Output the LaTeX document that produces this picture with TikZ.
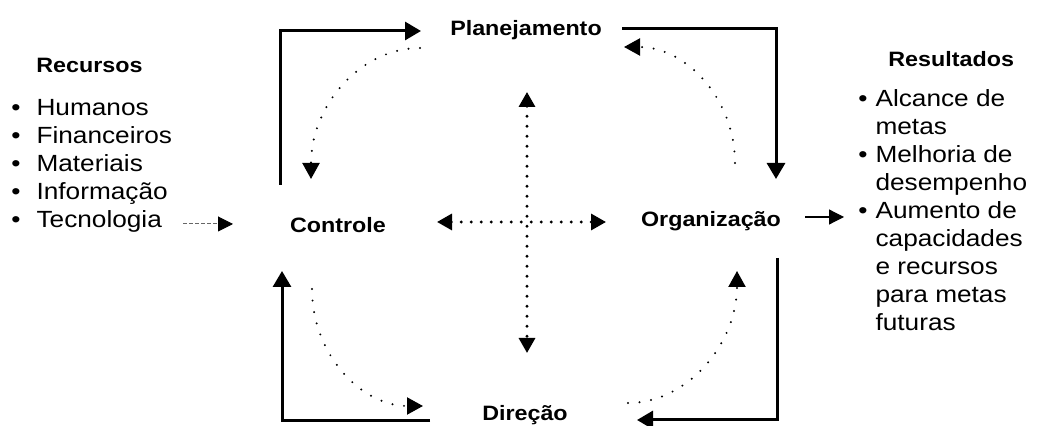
\documentclass[tikz,border=0pt]{standalone}
\usepackage{fontspec}
\setmainfont{Liberation Sans}[FakeStretch=1.12]
\usepackage{tikz}
\usetikzlibrary{arrows.meta,positioning}

\begin{document}
\begin{tikzpicture}[x=0.5pt,y=-0.5pt,
    flow/.style={line width=1.5pt,-{Triangle[length=8pt,width=9pt]}},
    cycle/.style={line width=1.1pt,line cap=round,dash pattern=on 0pt off 5.8pt,-{Triangle[length=8pt,width=8.5pt]}},
    cross/.style={line width=1.6pt,line cap=round,dash pattern=on 0pt off 5pt,{Triangle[length=7.5pt,width=8pt]}-{Triangle[length=7.5pt,width=8pt]}},
    phase/.style={font=\fontsize{10.4}{12}\selectfont\bfseries,anchor=base,inner sep=0pt},
    title/.style={font=\fontsize{10.4}{12}\selectfont\bfseries,anchor=base west,inner sep=0pt},
    items/.style={font=\fontsize{11.7}{14}\selectfont,anchor=base west,inner sep=0pt}]
    \useasboundingbox (0,0) rectangle (1038,426);

    \node [phase] (plan) at (526,36) {Planejamento};
    \node [phase] (ctrl) at (338,233) {Controle};
    \node [phase] (org) at (711,227) {Organização};
    \node [phase] (dir) at (525,421) {Direção};

    \node [title] (rec) at (36,73) {Recursos};
    \node [items] (reclist) at (11,116) {\begin{tabular}[t]{@{}l@{\hspace{8pt}}l@{}}
        \textbullet & Humanos\\
        \textbullet & Financeiros\\
        \textbullet & Materiais\\
        \textbullet & Informação\\
        \textbullet & Tecnologia
      \end{tabular}};

    \node [title] (res) at (888,67) {Resultados};
    \node [items] (reslist) at (858,107) {\begin{tabular}[t]{@{}l@{\hspace{4pt}}l@{}}
        \textbullet & Alcance de\\
         & metas\\
        \textbullet & Melhoria de\\
         & desempenho\\
        \textbullet & Aumento de\\
         & capacidades\\
         & e recursos\\
         & para metas\\
         & futuras
      \end{tabular}};

    \coordinate (tl0) at (280,185);
    \coordinate (tl1) at (421,31);
    \coordinate (tr0) at (622,29);
    \coordinate (tr1) at (776,179);
    \coordinate (br0) at (777,258);
    \coordinate (br1) at (637,420);
    \coordinate (bl0) at (430,421);
    \coordinate (bl1) at (282,271);

    \draw [flow] (tl0) |- (tl1);
    \draw [flow] (tr0) -| (tr1);
    \draw [flow] (br0) |- (br1);
    \draw [flow] (bl0) -| (bl1);

    \draw [cycle] (420,48) .. controls (360,48) and (311,106) .. (311,179);
    \draw [cycle] (735,163) .. controls (735,99) and (686,47) .. (624,47);
    \draw [cycle] (628,403) .. controls (688,403) and (737,343) .. (737,271);
    \draw [cycle] (312,289) .. controls (312,354) and (361,406) .. (423,406);

    \coordinate (up) at (527,92);
    \coordinate (down) at (527,353);
    \coordinate (left) at (437,222);
    \coordinate (right) at (606,222);
    \draw [cross] (up) -- (down);
    \draw [cross] (left) -- (right);

    \coordinate (in0) at (183,224);
    \coordinate (in1) at (233,224);
    \draw [draw=black!60,line width=0.5pt,dash pattern=on 2pt off 1pt,-{Triangle[length=7.5pt,width=7.5pt,fill=black,color=black]}] (in0) -- (in1);
    \coordinate (out0) at (805,217);
    \coordinate (out1) at (844,217);
    \draw [line width=0.6pt,-{Triangle[length=7.5pt,width=7.5pt]}] (out0) -- (out1);
\end{tikzpicture}
\end{document}
